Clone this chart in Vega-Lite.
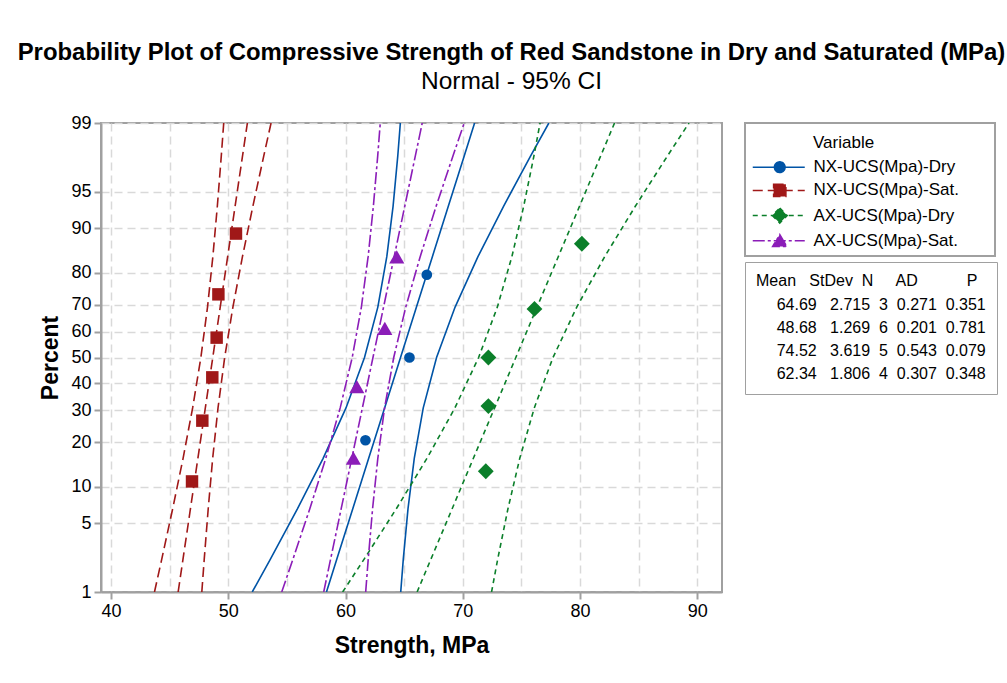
{
  "$schema": "https://vega.github.io/schema/vega-lite/v6.json",
  "width": 621,
  "height": 469,
  "autosize": {"type": "none"},
  "padding": {"left": 101, "top": 123, "right": 285, "bottom": 91},
  "background": "white",
  "title": {
    "text": "Probability Plot of Compressive Strength of Red Sandstone in Dry and Saturated (MPa)",
    "subtitle": "Normal - 95% CI",
    "anchor": "middle",
    "frame": "group",
    "dx": 100,
    "offset": 21,
    "font": "Liberation Sans",
    "fontSize": 23.9,
    "fontWeight": "bold",
    "color": "#000000",
    "subtitleFont": "Liberation Sans",
    "subtitleFontSize": 24.5,
    "subtitleColor": "#000000",
    "subtitlePadding": 5
  },
  "datasets": {
    "curves": [
      {"series": "NX-UCS(Mpa)-Dry", "z": -2.3263, "fit": 58.375, "lower": 52.044, "upper": 64.706},
      {"series": "NX-UCS(Mpa)-Dry", "z": -2, "fit": 59.26, "lower": 53.595, "upper": 64.925},
      {"series": "NX-UCS(Mpa)-Dry", "z": -1.5, "fit": 60.618, "lower": 55.908, "upper": 65.328},
      {"series": "NX-UCS(Mpa)-Dry", "z": -1, "fit": 61.975, "lower": 58.089, "upper": 65.861},
      {"series": "NX-UCS(Mpa)-Dry", "z": -0.5, "fit": 63.333, "lower": 60.039, "upper": 66.627},
      {"series": "NX-UCS(Mpa)-Dry", "z": 0, "fit": 64.69, "lower": 61.618, "upper": 67.762},
      {"series": "NX-UCS(Mpa)-Dry", "z": 0.5, "fit": 66.048, "lower": 62.754, "upper": 69.342},
      {"series": "NX-UCS(Mpa)-Dry", "z": 1, "fit": 67.405, "lower": 63.519, "upper": 71.291},
      {"series": "NX-UCS(Mpa)-Dry", "z": 1.5, "fit": 68.763, "lower": 64.053, "upper": 73.473},
      {"series": "NX-UCS(Mpa)-Dry", "z": 2, "fit": 70.12, "lower": 64.455, "upper": 75.785},
      {"series": "NX-UCS(Mpa)-Dry", "z": 2.3263, "fit": 71.005, "lower": 64.674, "upper": 77.336},
      {"series": "NX-UCS(Mpa)-Sat.", "z": -2.3263, "fit": 45.728, "lower": 43.71, "upper": 47.746},
      {"series": "NX-UCS(Mpa)-Sat.", "z": -2, "fit": 46.142, "lower": 44.331, "upper": 47.953},
      {"series": "NX-UCS(Mpa)-Sat.", "z": -1.5, "fit": 46.777, "lower": 45.262, "upper": 48.292},
      {"series": "NX-UCS(Mpa)-Sat.", "z": -1, "fit": 47.411, "lower": 46.149, "upper": 48.673},
      {"series": "NX-UCS(Mpa)-Sat.", "z": -0.5, "fit": 48.046, "lower": 46.964, "upper": 49.128},
      {"series": "NX-UCS(Mpa)-Sat.", "z": 0, "fit": 48.68, "lower": 47.665, "upper": 49.695},
      {"series": "NX-UCS(Mpa)-Sat.", "z": 0.5, "fit": 49.315, "lower": 48.233, "upper": 50.397},
      {"series": "NX-UCS(Mpa)-Sat.", "z": 1, "fit": 49.949, "lower": 48.687, "upper": 51.211},
      {"series": "NX-UCS(Mpa)-Sat.", "z": 1.5, "fit": 50.584, "lower": 49.069, "upper": 52.099},
      {"series": "NX-UCS(Mpa)-Sat.", "z": 2, "fit": 51.218, "lower": 49.407, "upper": 53.029},
      {"series": "NX-UCS(Mpa)-Sat.", "z": 2.3263, "fit": 51.632, "lower": 49.614, "upper": 53.65},
      {"series": "AX-UCS(Mpa)-Dry", "z": -2.3263, "fit": 66.102, "lower": 59.753, "upper": 72.451},
      {"series": "AX-UCS(Mpa)-Dry", "z": -2, "fit": 67.282, "lower": 61.588, "upper": 72.976},
      {"series": "AX-UCS(Mpa)-Dry", "z": -1.5, "fit": 69.092, "lower": 64.334, "upper": 73.85},
      {"series": "AX-UCS(Mpa)-Dry", "z": -1, "fit": 70.901, "lower": 66.945, "upper": 74.857},
      {"series": "AX-UCS(Mpa)-Dry", "z": -0.5, "fit": 72.711, "lower": 69.326, "upper": 76.096},
      {"series": "AX-UCS(Mpa)-Dry", "z": 0, "fit": 74.52, "lower": 71.348, "upper": 77.692},
      {"series": "AX-UCS(Mpa)-Dry", "z": 0.5, "fit": 76.33, "lower": 72.945, "upper": 79.715},
      {"series": "AX-UCS(Mpa)-Dry", "z": 1, "fit": 78.139, "lower": 74.183, "upper": 82.095},
      {"series": "AX-UCS(Mpa)-Dry", "z": 1.5, "fit": 79.949, "lower": 75.191, "upper": 84.707},
      {"series": "AX-UCS(Mpa)-Dry", "z": 2, "fit": 81.758, "lower": 76.064, "upper": 87.452},
      {"series": "AX-UCS(Mpa)-Dry", "z": 2.3263, "fit": 82.938, "lower": 76.589, "upper": 89.287},
      {"series": "AX-UCS(Mpa)-Sat.", "z": -2.3263, "fit": 58.139, "lower": 54.559, "upper": 61.719},
      {"series": "AX-UCS(Mpa)-Sat.", "z": -2, "fit": 58.728, "lower": 55.52, "upper": 61.936},
      {"series": "AX-UCS(Mpa)-Sat.", "z": -1.5, "fit": 59.631, "lower": 56.955, "upper": 62.307},
      {"series": "AX-UCS(Mpa)-Sat.", "z": -1, "fit": 60.534, "lower": 58.315, "upper": 62.753},
      {"series": "AX-UCS(Mpa)-Sat.", "z": -0.5, "fit": 61.437, "lower": 59.545, "upper": 63.329},
      {"series": "AX-UCS(Mpa)-Sat.", "z": 0, "fit": 62.34, "lower": 60.57, "upper": 64.11},
      {"series": "AX-UCS(Mpa)-Sat.", "z": 0.5, "fit": 63.243, "lower": 61.351, "upper": 65.135},
      {"series": "AX-UCS(Mpa)-Sat.", "z": 1, "fit": 64.146, "lower": 61.927, "upper": 66.365},
      {"series": "AX-UCS(Mpa)-Sat.", "z": 1.5, "fit": 65.049, "lower": 62.373, "upper": 67.725},
      {"series": "AX-UCS(Mpa)-Sat.", "z": 2, "fit": 65.952, "lower": 62.744, "upper": 69.16},
      {"series": "AX-UCS(Mpa)-Sat.", "z": 2.3263, "fit": 66.541, "lower": 62.961, "upper": 70.121}
    ],
    "points": [
      {"series": "NX-UCS(Mpa)-Dry", "strength": 61.7, "percent": 20.6, "z": -0.8208},
      {"series": "NX-UCS(Mpa)-Dry", "strength": 65.45, "percent": 50.0, "z": 0},
      {"series": "NX-UCS(Mpa)-Dry", "strength": 66.93, "percent": 79.4, "z": 0.8208},
      {"series": "NX-UCS(Mpa)-Sat.", "strength": 46.91, "percent": 10.9, "z": -1.2294},
      {"series": "NX-UCS(Mpa)-Sat.", "strength": 47.79, "percent": 26.6, "z": -0.6264},
      {"series": "NX-UCS(Mpa)-Sat.", "strength": 48.64, "percent": 42.2, "z": -0.197},
      {"series": "NX-UCS(Mpa)-Sat.", "strength": 49.01, "percent": 57.8, "z": 0.197},
      {"series": "NX-UCS(Mpa)-Sat.", "strength": 49.16, "percent": 73.4, "z": 0.6264},
      {"series": "NX-UCS(Mpa)-Sat.", "strength": 50.66, "percent": 89.1, "z": 1.2294},
      {"series": "AX-UCS(Mpa)-Dry", "strength": 71.96, "percent": 13.0, "z": -1.1286},
      {"series": "AX-UCS(Mpa)-Dry", "strength": 72.18, "percent": 31.5, "z": -0.4823},
      {"series": "AX-UCS(Mpa)-Dry", "strength": 72.18, "percent": 50.0, "z": 0},
      {"series": "AX-UCS(Mpa)-Dry", "strength": 76.11, "percent": 68.5, "z": 0.4823},
      {"series": "AX-UCS(Mpa)-Dry", "strength": 80.15, "percent": 87.0, "z": 1.1286},
      {"series": "AX-UCS(Mpa)-Sat.", "strength": 60.67, "percent": 15.9, "z": -0.9983},
      {"series": "AX-UCS(Mpa)-Sat.", "strength": 60.96, "percent": 38.6, "z": -0.2886},
      {"series": "AX-UCS(Mpa)-Sat.", "strength": 63.35, "percent": 61.4, "z": 0.2886},
      {"series": "AX-UCS(Mpa)-Sat.", "strength": 64.37, "percent": 84.1, "z": 0.9983}
    ],
    "series": [
      {"series": "NX-UCS(Mpa)-Dry"},
      {"series": "NX-UCS(Mpa)-Sat."},
      {"series": "AX-UCS(Mpa)-Dry"},
      {"series": "AX-UCS(Mpa)-Sat."}
    ],
    "stats": [
      {"series": "NX-UCS(Mpa)-Dry", "mean": 64.69, "stdev": 2.715, "n": 3, "ad": 0.271, "p": 0.351, "row": "64.69\u00a0\u00a0\u00a02.715\u00a0\u00a03\u00a0\u00a00.271\u00a0\u00a00.351"},
      {"series": "NX-UCS(Mpa)-Sat.", "mean": 48.68, "stdev": 1.269, "n": 6, "ad": 0.201, "p": 0.781, "row": "48.68\u00a0\u00a0\u00a01.269\u00a0\u00a06\u00a0\u00a00.201\u00a0\u00a00.781"},
      {"series": "AX-UCS(Mpa)-Dry", "mean": 74.52, "stdev": 3.619, "n": 5, "ad": 0.543, "p": 0.079, "row": "74.52\u00a0\u00a0\u00a03.619\u00a0\u00a05\u00a0\u00a00.543\u00a0\u00a00.079"},
      {"series": "AX-UCS(Mpa)-Sat.", "mean": 62.34, "stdev": 1.806, "n": 4, "ad": 0.307, "p": 0.348, "row": "62.34\u00a0\u00a0\u00a01.806\u00a0\u00a04\u00a0\u00a00.307\u00a0\u00a00.348"}
    ]
  },
  "layer": [
    {
      "data": {"name": "curves"},
      "transform": [
        {"filter": "datum.series === 'NX-UCS(Mpa)-Dry'"},
        {"fold": ["fit", "lower", "upper"], "as": ["curve", "strength"]}
      ],
      "mark": {"type": "line", "color": "#0054A6", "strokeWidth": 1.6, "clip": true},
      "encoding": {
        "x": {"field": "strength", "type": "quantitative", "scale": {"domain": [39.15, 92.1], "nice": false, "zero": false},
          "axis": {"title": "Strength, MPa", "values": [40, 45, 50, 55, 60, 65, 70, 75, 80, 85, 90], "tickCount": 30,
            "labelExpr": "datum.value % 10 === 0 ? datum.label : ''",
            "tickOpacity": {"condition": {"test": "datum.value % 10 !== 0", "value": 0}, "value": 1},
            "labelOverlap": false, "titlePadding": 14}},
        "y": {"field": "z", "type": "quantitative", "scale": {"domain": [-2.3263, 2.3263], "nice": false, "zero": false},
          "axis": {"title": "Percent", "values": [-2.3263, -1.6449, -1.2816, -0.8416, -0.5244, -0.2533, 0, 0.2533, 0.5244, 0.8416, 1.2816, 1.6449, 2.3263], "tickCount": 30,
            "labelExpr": "format(100 * cumulativeNormal(datum.value), '.0f')",
            "labelOverlap": false, "titlePadding": 8}},
        "detail": {"field": "curve"},
        "order": {"field": "z", "type": "quantitative"}
      }
    },
    {
      "data": {"name": "curves"},
      "transform": [
        {"filter": "datum.series === 'NX-UCS(Mpa)-Sat.'"},
        {"fold": ["fit", "lower", "upper"], "as": ["curve", "strength"]}
      ],
      "mark": {"type": "line", "color": "#A01818", "strokeWidth": 1.6, "strokeDash": [10, 5], "clip": true},
      "encoding": {
        "x": {"field": "strength", "type": "quantitative", "scale": {"domain": [39.15, 92.1], "nice": false, "zero": false}},
        "y": {"field": "z", "type": "quantitative", "scale": {"domain": [-2.3263, 2.3263], "nice": false, "zero": false}},
        "detail": {"field": "curve"},
        "order": {"field": "z", "type": "quantitative"}
      }
    },
    {
      "data": {"name": "curves"},
      "transform": [
        {"filter": "datum.series === 'AX-UCS(Mpa)-Dry'"},
        {"fold": ["fit", "lower", "upper"], "as": ["curve", "strength"]}
      ],
      "mark": {"type": "line", "color": "#0B7F2A", "strokeWidth": 1.6, "strokeDash": [5, 4], "clip": true},
      "encoding": {
        "x": {"field": "strength", "type": "quantitative", "scale": {"domain": [39.15, 92.1], "nice": false, "zero": false}},
        "y": {"field": "z", "type": "quantitative", "scale": {"domain": [-2.3263, 2.3263], "nice": false, "zero": false}},
        "detail": {"field": "curve"},
        "order": {"field": "z", "type": "quantitative"}
      }
    },
    {
      "data": {"name": "curves"},
      "transform": [
        {"filter": "datum.series === 'AX-UCS(Mpa)-Sat.'"},
        {"fold": ["fit", "lower", "upper"], "as": ["curve", "strength"]}
      ],
      "mark": {"type": "line", "color": "#8B1DB8", "strokeWidth": 1.6, "strokeDash": [12, 3, 3, 3], "clip": true},
      "encoding": {
        "x": {"field": "strength", "type": "quantitative", "scale": {"domain": [39.15, 92.1], "nice": false, "zero": false}},
        "y": {"field": "z", "type": "quantitative", "scale": {"domain": [-2.3263, 2.3263], "nice": false, "zero": false}},
        "detail": {"field": "curve"},
        "order": {"field": "z", "type": "quantitative"}
      }
    },
    {
      "data": {"name": "points"},
      "transform": [{"filter": "datum.series === 'NX-UCS(Mpa)-Dry'"}],
      "mark": {"type": "point", "shape": "circle", "filled": true, "opacity": 1, "size": 115, "color": "#0054A6"},
      "encoding": {
        "x": {"field": "strength", "type": "quantitative", "scale": {"domain": [39.15, 92.1], "nice": false, "zero": false}},
        "y": {"field": "z", "type": "quantitative", "scale": {"domain": [-2.3263, 2.3263], "nice": false, "zero": false}}
      }
    },
    {
      "data": {"name": "points"},
      "transform": [{"filter": "datum.series === 'NX-UCS(Mpa)-Sat.'"}],
      "mark": {"type": "point", "shape": "square", "filled": true, "opacity": 1, "size": 155, "color": "#A01818"},
      "encoding": {
        "x": {"field": "strength", "type": "quantitative", "scale": {"domain": [39.15, 92.1], "nice": false, "zero": false}},
        "y": {"field": "z", "type": "quantitative", "scale": {"domain": [-2.3263, 2.3263], "nice": false, "zero": false}}
      }
    },
    {
      "data": {"name": "points"},
      "transform": [{"filter": "datum.series === 'AX-UCS(Mpa)-Dry'"}],
      "mark": {"type": "point", "shape": "diamond", "filled": true, "opacity": 1, "size": 250, "color": "#0B7F2A"},
      "encoding": {
        "x": {"field": "strength", "type": "quantitative", "scale": {"domain": [39.15, 92.1], "nice": false, "zero": false}},
        "y": {"field": "z", "type": "quantitative", "scale": {"domain": [-2.3263, 2.3263], "nice": false, "zero": false}}
      }
    },
    {
      "data": {"name": "points"},
      "transform": [{"filter": "datum.series === 'AX-UCS(Mpa)-Sat.'"}],
      "mark": {"type": "point", "shape": "triangle-up", "filled": true, "opacity": 1, "size": 230, "color": "#8B1DB8"},
      "encoding": {
        "x": {"field": "strength", "type": "quantitative", "scale": {"domain": [39.15, 92.1], "nice": false, "zero": false}},
        "y": {"field": "z", "type": "quantitative", "scale": {"domain": [-2.3263, 2.3263], "nice": false, "zero": false}}
      }
    },
    {
      "data": {"name": "series"},
      "mark": {"type": "point", "filled": true, "opacity": 0, "size": 100, "strokeWidth": 1.5},
      "encoding": {
        "fill": {"field": "series", "type": "nominal",
          "scale": {"domain": ["NX-UCS(Mpa)-Dry", "NX-UCS(Mpa)-Sat.", "AX-UCS(Mpa)-Dry", "AX-UCS(Mpa)-Sat."], "range": ["#0054A6", "#A01818", "#0B7F2A", "#8B1DB8"]},
          "legend": {"title": "Variable", "orient": "none", "legendX": 644, "legendY": 0, "padding": 6, "labelOffset": 45.5, "rowPadding": 5.2, "titlePadding": 12.7, "labelFontSize": 17, "titleFontSize": 17, "symbolOpacity": 1, "symbolStrokeWidth": 1.5,
            "encode": {"title": {"update": {"dx": {"value": 62}, "dy": {"value": 5.7}}}, "legend": {"update": {"strokeWidth": {"value": 2}}}}}},
        "stroke": {"field": "series", "type": "nominal",
          "scale": {"domain": ["NX-UCS(Mpa)-Dry", "NX-UCS(Mpa)-Sat.", "AX-UCS(Mpa)-Dry", "AX-UCS(Mpa)-Sat."], "range": ["#0054A6", "#A01818", "#0B7F2A", "#8B1DB8"]},
          "legend": {"title": "Variable", "orient": "none", "legendX": 644, "legendY": 0, "padding": 6, "labelOffset": 45.5, "rowPadding": 5.2, "titlePadding": 12.7, "labelFontSize": 17, "titleFontSize": 17, "symbolOpacity": 1, "symbolStrokeWidth": 1.5,
            "encode": {"title": {"update": {"dx": {"value": 62}, "dy": {"value": 5.7}}}, "legend": {"update": {"strokeWidth": {"value": 2}}}}}},
        "shape": {"field": "series", "type": "nominal",
          "scale": {"domain": ["NX-UCS(Mpa)-Dry", "NX-UCS(Mpa)-Sat.", "AX-UCS(Mpa)-Dry", "AX-UCS(Mpa)-Sat."],
            "range": [
              "M-1.35,0H9.05M2.98,0A1.07,1.07,0,1,0,5.12,0A1.07,1.07,0,1,0,2.98,0ZM45.3,0",
              "M-1.35,0H9.05M2.82,-1.23H5.28V1.23H2.82ZM45.3,0",
              "M-1.35,0H9.05M4.05,-1.5L5.55,0L4.05,1.5L2.55,0ZM45.3,0",
              "M-1.35,0H9.05M4.05,-1.25L5.48,1.15L2.62,1.15ZM45.3,0"
            ]},
          "legend": {"title": "Variable", "orient": "none", "legendX": 644, "legendY": 0, "padding": 6, "labelOffset": 45.5, "rowPadding": 5.2, "titlePadding": 12.7, "labelFontSize": 17, "titleFontSize": 17, "symbolOpacity": 1, "symbolStrokeWidth": 1.5,
            "encode": {"title": {"update": {"dx": {"value": 62}, "dy": {"value": 5.7}}}, "legend": {"update": {"strokeWidth": {"value": 2}}}}}},
        "strokeDash": {"field": "series", "type": "nominal",
          "scale": {"domain": ["NX-UCS(Mpa)-Dry", "NX-UCS(Mpa)-Sat.", "AX-UCS(Mpa)-Dry", "AX-UCS(Mpa)-Sat."], "range": [[1, 0], [10, 5], [5, 4], [12, 3, 3, 3]]},
          "legend": {"title": "Variable", "orient": "none", "legendX": 644, "legendY": 0, "padding": 6, "labelOffset": 45.5, "rowPadding": 5.2, "titlePadding": 12.7, "labelFontSize": 17, "titleFontSize": 17, "symbolOpacity": 1, "symbolStrokeWidth": 1.5,
            "encode": {"title": {"update": {"dx": {"value": 62}, "dy": {"value": 5.7}}}, "legend": {"update": {"strokeWidth": {"value": 2}}}}}}
      }
    },
    {
      "data": {"name": "stats"},
      "mark": {"type": "point", "opacity": 0, "size": 0},
      "encoding": {
        "color": {"field": "row", "type": "nominal",
          "scale": {"domain": [
            "64.69\u00a0\u00a0\u00a02.715\u00a0\u00a03\u00a0\u00a00.271\u00a0\u00a00.351",
            "48.68\u00a0\u00a0\u00a01.269\u00a0\u00a06\u00a0\u00a00.201\u00a0\u00a00.781",
            "74.52\u00a0\u00a0\u00a03.619\u00a0\u00a05\u00a0\u00a00.543\u00a0\u00a00.079",
            "62.34\u00a0\u00a0\u00a01.806\u00a0\u00a04\u00a0\u00a00.307\u00a0\u00a00.348"],
            "range": ["#000000", "#000000", "#000000", "#000000"]},
          "legend": {"title": "Mean\u00a0\u00a0\u00a0StDev\u00a0\u00a0N\u00a0\u00a0\u00a0\u00a0\u00a0AD\u00a0\u00a0\u00a0\u00a0\u00a0\u00a0\u00a0\u00a0\u00a0\u00a0\u00a0P",
            "orient": "none", "legendX": 644, "legendY": 139, "padding": 11,
            "labelFontSize": 16, "titleFontSize": 16, "labelOffset": 4.7, "rowPadding": 7.2, "titlePadding": 7.5,
            "symbolSize": 0, "symbolOpacity": 0, "symbolStrokeWidth": 0, "labelLimit": 400, "titleLimit": 400,
            "encode": {"title": {"update": {"dx": {"value": 4}}}, "legend": {"update": {"strokeWidth": {"value": 2}}}}}}
      }
    }
  ],
  "config": {
    "font": "Liberation Sans",
    "view": {"stroke": "#A0A0A0", "strokeWidth": 2},
    "axis": {
      "labelFont": "Liberation Sans", "labelFontSize": 18, "labelColor": "#000000", "labelPadding": 3, "labelFlush": false, "labelOverlap": false,
      "titleFont": "Liberation Sans", "titleFontSize": 23, "titleFontWeight": "bold", "titleColor": "#000000",
      "domainColor": "#A0A0A0", "domainWidth": 2, "tickColor": "#A0A0A0", "tickWidth": 2, "tickSize": 7,
      "grid": true, "gridColor": "#D9D9D9", "gridDash": [8, 5], "gridWidth": 1.5
    },
    "legend": {
      "strokeColor": "#A0A0A0",
      "labelFont": "Liberation Sans", "labelFontSize": 16, "labelColor": "#000000",
      "titleFont": "Liberation Sans", "titleFontSize": 16, "titleFontWeight": "normal", "titleColor": "#000000",
      "labelLimit": 400
    }
  }
}
